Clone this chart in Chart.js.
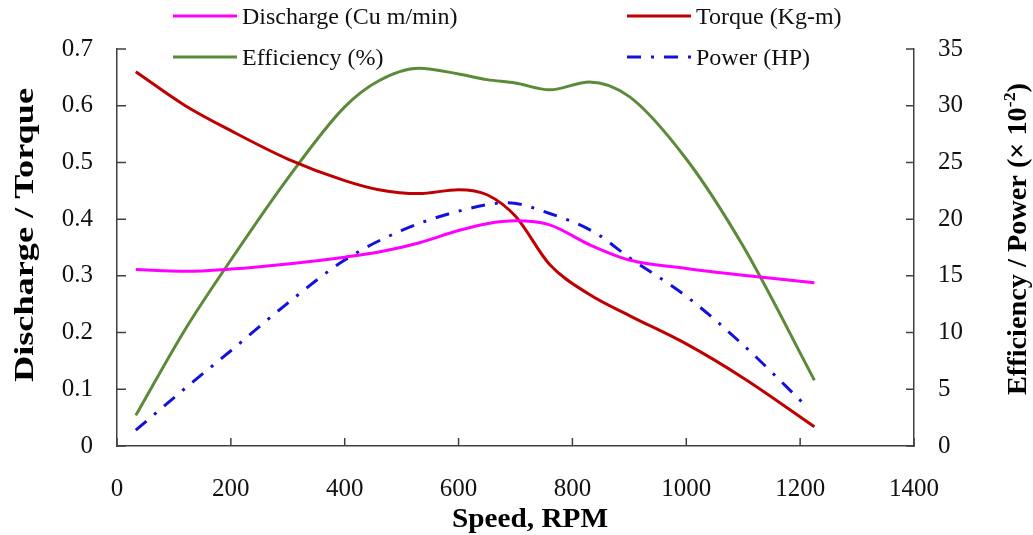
<!DOCTYPE html>
<html>
<head>
<meta charset="utf-8">
<script src="https://cdn.jsdelivr.net/npm/chart.js@4.4.1/dist/chart.umd.min.js"></script>
<style>
  body { margin: 0; background: #fff; }
  #wrap { width: 1033px; height: 535px; }
</style>
</head>
<body>
<div id="wrap"><canvas id="myChart"></canvas></div>
<script>
// pump test readings vs shaft speed
const speed      = [33, 120, 200, 300, 400, 460, 530, 600, 650, 700, 760, 830, 900, 1000, 1100, 1225];
const discharge  = [0.311, 0.308, 0.312, 0.321, 0.333, 0.342, 0.358, 0.380, 0.392, 0.397, 0.390, 0.355, 0.328, 0.313, 0.301, 0.288];
const torque     = [0.660, 0.600, 0.556, 0.506, 0.468, 0.452, 0.445, 0.452, 0.443, 0.405, 0.320, 0.267, 0.230, 0.180, 0.120, 0.034];
const efficiency = [2.7, 10.3, 16.4, 23.6, 29.9, 32.2, 33.3, 32.8, 32.3, 32.0, 31.4, 32.1, 30.8, 25.3, 17.6, 5.8];

const powerSpeed = [33, 120, 200, 300, 400, 500, 600, 685, 760, 840, 900, 1000, 1100, 1213];
const power      = [1.4, 5.1, 8.4, 12.6, 16.4, 19.0, 20.7, 21.45, 20.5, 18.8, 16.6, 13.2, 8.9, 3.4];

const xTicks = [0, 200, 400, 600, 800, 1000, 1200, 1400];

const serif = '"Liberation Serif", "Times New Roman", serif';
const axisColor = '#404040';

function pts(xs, ys) {
    return xs.map((x, i) => ({ x: x, y: ys[i] }));
}

// stretch a run of text pieces to a given length, optionally rotated
function stretchedText(ctx, parts, x, y, len, angle) {
    ctx.save();
    ctx.translate(x, y);
    ctx.rotate(angle);
    let w = 0;
    parts.forEach(p => { ctx.font = p.font; w += ctx.measureText(p.text).width; });
    ctx.scale(len / w, 1);
    ctx.textAlign = 'left';
    ctx.textBaseline = 'alphabetic';
    ctx.fillStyle = '#000';
    let cx = -w / 2;
    parts.forEach(p => {
        ctx.font = p.font;
        ctx.fillText(p.text, cx, p.dy || 0);
        cx += ctx.measureText(p.text).width;
    });
    ctx.restore();
}

const decor = {
    id: 'decor',
    afterDraw(chart) {
        const ctx = chart.ctx;
        const xs = chart.scales.x, yl = chart.scales.y, yr = chart.scales.y1;

        // tick marks pointing into the plot
        ctx.save();
        ctx.strokeStyle = axisColor;
        ctx.lineWidth = 1.5;
        ctx.beginPath();
        xs.ticks.forEach(t => {
            const px = xs.getPixelForValue(t.value);
            ctx.moveTo(px, xs.top); ctx.lineTo(px, xs.top - 8);
        });
        yl.ticks.forEach(t => {
            const py = yl.getPixelForValue(t.value);
            ctx.moveTo(yl.right, py); ctx.lineTo(yl.right + 9, py);
        });
        yr.ticks.forEach(t => {
            const py = yr.getPixelForValue(t.value);
            ctx.moveTo(yr.left, py); ctx.lineTo(yr.left - 8, py);
        });
        ctx.stroke();
        ctx.restore();

        // axis titles
        const bold = 'bold 27px ' + serif;
        stretchedText(ctx, [{ text: 'Discharge / Torque', font: bold }], 33, 235, 294, -Math.PI / 2);
        stretchedText(ctx, [
            { text: 'Efficiency / Power (\u00d7 10', font: bold },
            { text: '-2', font: 'bold 17px ' + serif, dy: -11 },
            { text: ')', font: bold }
        ], 1026, 239, 312, -Math.PI / 2);
        stretchedText(ctx, [{ text: 'Speed, RPM', font: 'bold 28px ' + serif }], 530, 527, 156, 0);

        // legend, two columns
        const spots = [
            { x: 173, y: 16 },   // Discharge
            { x: 627, y: 16 },   // Torque
            { x: 173, y: 57 },   // Efficiency
            { x: 627, y: 57 }    // Power
        ];
        chart.data.datasets.forEach((ds, i) => {
            const s = spots[i];
            ctx.save();
            ctx.strokeStyle = ds.borderColor;
            ctx.lineWidth = ds.borderWidth;
            ctx.setLineDash(ds.borderDash || []);
            ctx.beginPath();
            ctx.moveTo(s.x, s.y);
            ctx.lineTo(s.x + 64, s.y);
            ctx.stroke();
            ctx.setLineDash([]);
            ctx.fillStyle = '#111';
            ctx.font = '24px ' + serif;
            ctx.textBaseline = 'alphabetic';
            ctx.fillText(ds.label, s.x + 69, s.y + 8);
            ctx.restore();
        });
    }
};

const ctx = document.getElementById('myChart').getContext('2d');

new Chart(ctx, {
    type: 'line',
    data: {
        datasets: [
            {
                label: 'Discharge (Cu m/min)',
                data: pts(speed, discharge),
                borderColor: '#FF00FF',
                borderWidth: 3,
                yAxisID: 'y'
            },
            {
                label: 'Torque (Kg-m)',
                data: pts(speed, torque),
                borderColor: '#C00000',
                borderWidth: 3,
                yAxisID: 'y'
            },
            {
                label: 'Efficiency (%)',
                data: pts(speed, efficiency),
                borderColor: '#5B8A38',
                borderWidth: 3,
                yAxisID: 'y1'
            },
            {
                label: 'Power (HP)',
                data: pts(powerSpeed, power),
                borderColor: '#1212DC',
                borderWidth: 3,
                borderDash: [14, 10, 3, 10],
                yAxisID: 'y1'
            }
        ]
    },
    options: {
        responsive: true,
        maintainAspectRatio: false,
        animation: false,
        layout: { padding: { top: 49 } },
        elements: {
            point: { radius: 0 },
            line: { cubicInterpolationMode: 'monotone', fill: false }
        },
        plugins: {
            legend: { display: false },
            tooltip: { enabled: false }
        },
        scales: {
            x: {
                type: 'linear',
                min: 0,
                max: 1400,
                afterBuildTicks: (s) => { s.ticks = xTicks.map(v => ({ value: v })); },
                afterFit: (s) => { s.height = 89; },
                grid: { display: true, drawOnChartArea: false, drawTicks: false },
                border: { display: true, color: axisColor, width: 1.5 },
                ticks: {
                    padding: 28,
                    color: '#111',
                    font: { family: serif, size: 25 },
                    callback: (val) => String(val)
                }
            },
            y: {
                position: 'left',
                min: 0,
                max: 0.7,
                ticks: {
                    stepSize: 0.1,
                    padding: 24,
                    color: '#111',
                    font: { family: serif, size: 25 }
                },
                afterFit: (s) => { s.width = 117; },
                grid: { display: true, drawOnChartArea: false, drawTicks: false },
                border: { display: true, color: axisColor, width: 1.5 }
            },
            y1: {
                position: 'right',
                min: 0,
                max: 35,
                ticks: {
                    stepSize: 5,
                    padding: 24,
                    color: '#111',
                    font: { family: serif, size: 25 }
                },
                afterFit: (s) => { s.width = 119; },
                grid: { display: true, drawOnChartArea: false, drawTicks: false },
                border: { display: true, color: axisColor, width: 1.5 }
            }
        }
    },
    plugins: [decor]
});
</script>
</body>
</html>
